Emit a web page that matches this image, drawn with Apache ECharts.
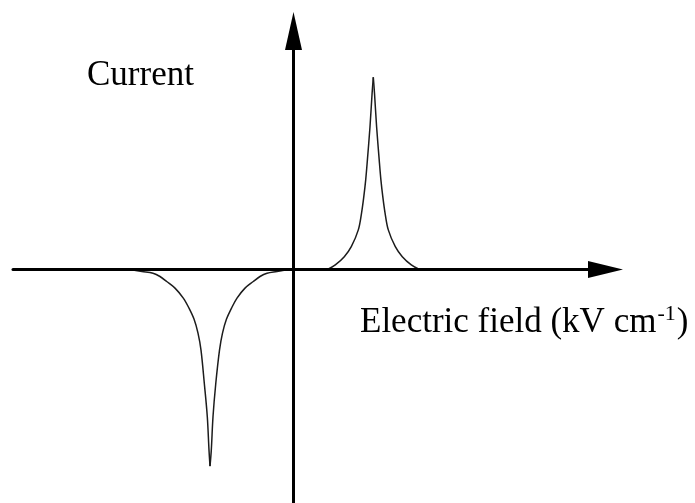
<!DOCTYPE html>
<html>
<head>
<meta charset="utf-8">
<script src="https://cdn.jsdelivr.net/npm/echarts@6/dist/echarts.min.js"></script>
<style>
  html, body { margin: 0; padding: 0; background: #fff; }
  #chart { width: 695px; height: 503px; }
</style>
</head>
<body>
<div id="chart"></div>
<script>
// Axis titles
const yTitle = 'Current';
const xTitleMain = 'Electric field (kV cm';
const xTitleSup = '-1';
const xTitleEnd = ')';

// Switching current peaks, [field, current] in arbitrary units
const negativePeak = [
  [-16.35, 0], [-15.15, -0.10], [-14.05, -0.19], [-13.35, -0.35], [-12.68, -0.60],
  [-11.85, -0.93], [-11.02, -1.43], [-10.45, -1.93], [-9.95, -2.48], [-9.55, -3.18],
  [-9.25, -4.03], [-8.92, -5.69], [-8.62, -7.36], [-8.45, -9.03], [-8.35, -9.83],
  [-8.22, -9.03], [-8.05, -7.36], [-7.77, -5.69], [-7.40, -4.03], [-7.10, -3.18],
  [-6.70, -2.48], [-6.20, -1.93], [-5.65, -1.43], [-4.85, -0.93], [-4.02, -0.60],
  [-3.35, -0.35], [-2.65, -0.19], [-1.65, -0.10], [-0.55, 0]
];

const positivePeak = [
  [3.40, 0], [4.18, 0.23], [5.08, 0.64], [5.78, 1.14], [6.48, 1.98], [6.80, 2.81],
  [7.03, 3.64], [7.22, 4.48], [7.39, 5.48], [7.65, 7.14], [7.86, 8.81], [7.98, 9.61],
  [8.10, 8.81], [8.31, 7.14], [8.57, 5.48], [8.74, 4.48], [8.93, 3.64], [9.16, 2.81],
  [9.48, 1.98], [10.18, 1.14], [10.88, 0.64], [11.78, 0.23], [12.60, 0]
];

// Axis extents
const xRange = [-28.05, 31.2];
const yRange = [-11.675, 11.925];

// Split a peak at its extreme so each flank is smoothed on its own and the tip stays sharp
function splitAtTip(points) {
  let tip = 0;
  points.forEach((p, i) => { if (Math.abs(p[1]) > Math.abs(points[tip][1])) tip = i; });
  return [points.slice(0, tip + 1), points.slice(tip)];
}

const curveStyle = { color: '#1c1c1c', width: 1.5 };
const flanks = [...splitAtTip(negativePeak), ...splitAtTip(positivePeak)];
const series = flanks.map(data => ({
  type: 'line',
  data: data,
  smooth: 0.35,
  showSymbol: false,
  silent: true,
  lineStyle: curveStyle,
  z: 1
}));

const axisCommon = {
  type: 'value',
  axisTick: { show: false },
  axisLabel: { show: false },
  splitLine: { show: false }
};

const chart = echarts.init(document.getElementById('chart'), null, { renderer: 'canvas' });
chart.setOption({
  animation: false,
  backgroundColor: '#fff',
  grid: { left: 13, right: 89.5, top: 31, bottom: 0, containLabel: false, outerBoundsMode: 'none' },
  xAxis: Object.assign({}, axisCommon, {
    min: xRange[0], max: xRange[1],
    axisLine: {
      onZero: true,
      symbol: ['none', 'triangle'],
      symbolSize: [17, 35],
      lineStyle: { color: '#000', width: 3 }
    },
    z: 3
  }),
  yAxis: Object.assign({}, axisCommon, {
    min: yRange[0], max: yRange[1],
    axisLine: {
      onZero: true,
      symbol: ['none', 'triangle'],
      symbolSize: [17, 38],
      lineStyle: { color: '#000', width: 3 }
    },
    z: 3
  }),
  graphic: [
    {
      type: 'text', left: 87, top: 58,
      style: { text: yTitle, font: '35px "Liberation Serif"', fill: '#000' }
    },
    {
      type: 'text', left: 360, top: 303,
      style: {
        text: '{a|' + xTitleMain + '}{s|' + xTitleSup + '}{a|' + xTitleEnd + '}',
        rich: {
          a: { fontFamily: 'Liberation Serif', fontSize: 35, lineHeight: 40, fill: '#000' },
          s: { fontFamily: 'Liberation Serif', fontSize: 22, lineHeight: 25, verticalAlign: 'top', fill: '#000', padding: [0, 1, 0, 1] }
        }
      }
    }
  ],
  series: series
});
</script>
</body>
</html>
